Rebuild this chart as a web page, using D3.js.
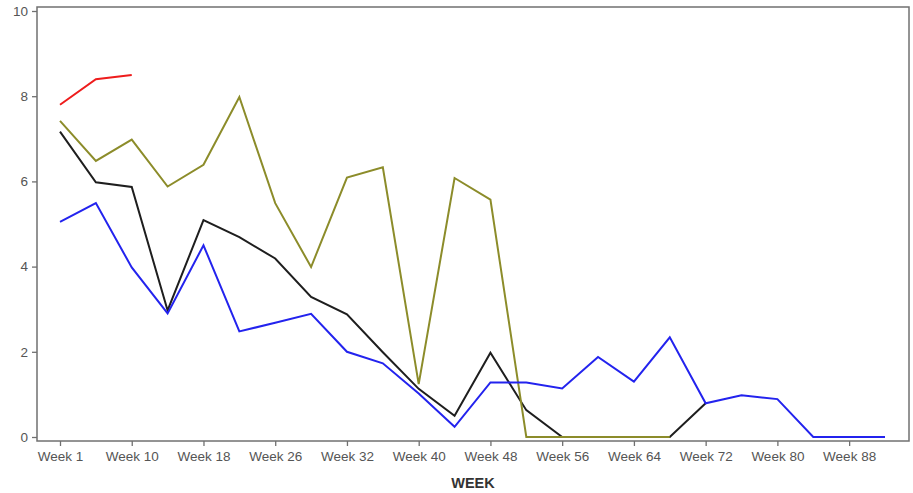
<!DOCTYPE html>
<html><head><meta charset="utf-8">
<script src="https://cdn.jsdelivr.net/npm/d3@7"></script>
<style>body{margin:0;background:#fff}svg{display:block}</style>
</head><body><svg id="c" width="913" height="493"></svg>
<script>
const weeks = ["Week 1","Week 5","Week 10","Week 14","Week 18","Week 22","Week 26","Week 29","Week 32","Week 36","Week 40","Week 44","Week 48","Week 52","Week 56","Week 60","Week 64","Week 68","Week 72","Week 76","Week 80","Week 84","Week 88","Week 92"];
const tickLabels = ["Week 1","Week 10","Week 18","Week 26","Week 32","Week 40","Week 48","Week 56","Week 64","Week 72","Week 80","Week 88"];
const yTicks = [0,2,4,6,8,10];
const redVals = [7.8,8.4,8.5];
const oliveVals = [7.42,6.48,6.98,5.88,6.39,7.98,5.49,3.99,6.09,6.33,1.24,6.08,5.57,0,0,0,0,0];
const blackVals = [7.17,5.98,5.87,2.97,5.09,4.69,4.19,3.29,2.88,1.99,1.13,0.5,1.98,0.63,0,0,0,0,0.79];
const blueVals = [5.05,5.49,3.98,2.9,4.5,2.48,2.68,2.89,2.0,1.73,1.02,0.24,1.28,1.28,1.14,1.88,1.3,2.34,0.79,0.98,0.89,0,0,0];

const svg = d3.select("#c");
const L=37,T=7,R=909,B=441;
const x = d3.scalePoint().domain(weeks).range([60,885]);
const y = d3.scaleLinear().domain([0,10]).range([437,11]);

svg.append("rect").attr("x",L).attr("y",T).attr("width",R-L).attr("height",B-T)
  .attr("fill","none").attr("stroke","#707070").attr("stroke-width",1.5);

const xa = svg.append("g").attr("transform",`translate(0,${B})`)
  .call(d3.axisBottom(x).tickValues(tickLabels).tickSize(5).tickSizeOuter(0).tickPadding(5));
const ya = svg.append("g").attr("transform",`translate(${L},0)`)
  .call(d3.axisLeft(y).tickValues(yTicks).tickSize(5).tickSizeOuter(0).tickPadding(4));
[xa,ya].forEach(a=>{
  a.select(".domain").remove();
  a.selectAll("line").attr("stroke","#707070").attr("stroke-width",1.3);
  a.selectAll("text").attr("fill","#555").attr("font-family","Liberation Sans, Arial, sans-serif").attr("font-size","13.5px");
});

svg.append("text").attr("x",(L+R)/2).attr("y",488).attr("text-anchor","middle")
  .attr("font-family","Liberation Sans, Arial, sans-serif").attr("font-weight","bold").attr("font-size","14.5px").attr("fill","#333").text("WEEK");

const line = d3.line().x((d,i)=>x(weeks[i])).y(d=>y(d));
const series = [[blackVals,"#1e1e1e"],[oliveVals,"#8c8c2a"],[blueVals,"#2323ee"],[redVals,"#ee1c1c"]];
series.forEach(([v,c])=>{
  svg.append("path").datum(v).attr("d",line).attr("fill","none").attr("stroke",c)
    .attr("stroke-width",2).attr("stroke-linejoin","miter");
});
</script></body></html>
